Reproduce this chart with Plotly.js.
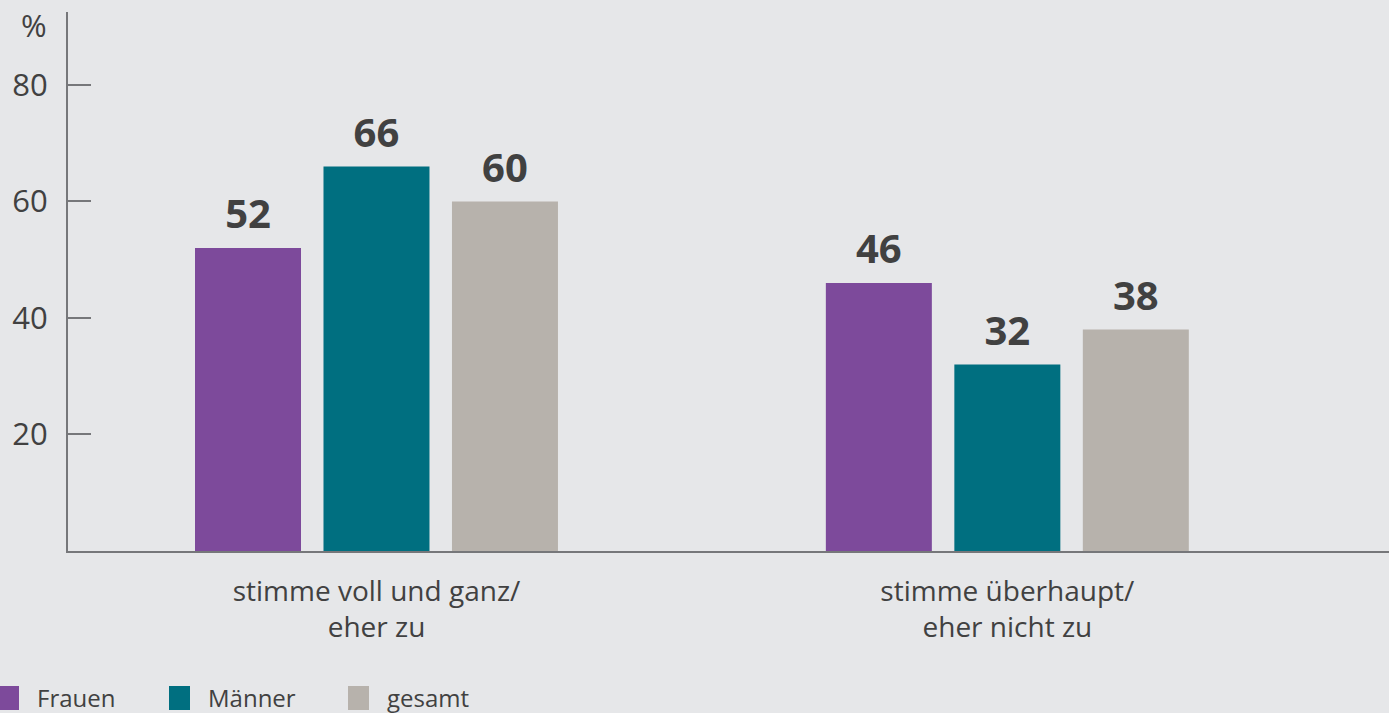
<!DOCTYPE html>
<html>
<head>
<meta charset="utf-8">
<script src="https://cdn.plot.ly/plotly-3.0.1.min.js"></script>
<style>
  html, body { margin: 0; padding: 0; background: #e6e7e9; }
  #chart { width: 1389px; height: 713px; }
</style>
</head>
<body>
<div id="chart"></div>
<script>
// ---- data ----
const categories = ["stimme voll und ganz/<br>eher zu", "stimme überhaupt/<br>eher nicht zu"];
const seriesNames = ["Frauen", "Männer", "gesamt"];
const frauen = [52, 46];
const maenner = [66, 32];
const gesamt = [60, 38];
const yTickVals = [20, 40, 60, 80];
const yUnit = "%";

// ---- styling ----
const seriesValues = [frauen, maenner, gesamt];
const colors = ["#7d4a9b", "#006f80", "#b7b2ac"];
const textColor = "#414141";
const axisColor = "#76777a";
const bg = "#e6e7e9";
const FONT = "Open Sans, Noto Sans, sans-serif";

const W = 1389, H = 713;
const M = { l: 68, r: 0, t: 12, b: 162 };
const PW = W - M.l - M.r, PH = H - M.t - M.b;
const px2x = p => (p - M.l) / PW;
const py2y = p => (H - M.b - p) / PH;

const traces = [];
seriesNames.forEach((name, i) => {
  traces.push({
    type: "bar",
    name: name,
    x: categories,
    y: seriesValues[i],
    marker: { color: colors[i] },
    offsetgroup: String(i),
    hoverinfo: "skip",
    showlegend: false
  });
});
seriesNames.forEach((name, i) => {
  traces.push({
    type: "scatter",
    mode: "markers+text",
    name: name + " label",
    x: categories,
    y: seriesValues[i],
    text: seriesValues[i].map(String),
    textposition: "top center",
    textfont: { family: FONT, size: 40, color: textColor, weight: 700 },
    marker: { size: 14, color: "rgba(0,0,0,0)" },
    offsetgroup: String(i),
    cliponaxis: false,
    hoverinfo: "skip",
    showlegend: false
  });
});

// custom legend (layout positions in pixels)
const shapes = [];
const annotations = [];
const legendSquareX = [-2, 169, 348];
const sqW = 21, sqTop = 686, sqBot = 710, textOff = 37;
seriesNames.forEach((name, i) => {
  const x0 = legendSquareX[i];
  shapes.push({
    type: "rect", xref: "paper", yref: "paper",
    x0: px2x(x0), x1: px2x(x0 + sqW), y0: py2y(sqBot), y1: py2y(sqTop),
    fillcolor: colors[i], line: { width: 0 }, layer: "above"
  });
  annotations.push({
    xref: "paper", yref: "paper",
    x: px2x(x0 + textOff), y: py2y(697),
    xanchor: "left", yanchor: "middle",
    text: name, showarrow: false,
    font: { family: FONT, size: 24, color: textColor }
  });
});
annotations.push({
  xref: "paper", yref: "paper",
  x: px2x(49), y: py2y(25),
  xanchor: "right", yanchor: "middle",
  text: yUnit, showarrow: false,
  font: { family: FONT, size: 31, color: textColor }
});

const layout = {
  width: W, height: H,
  margin: M,
  paper_bgcolor: bg,
  plot_bgcolor: bg,
  font: { family: FONT, color: textColor },
  showlegend: false,
  barmode: "group",
  scattermode: "group",
  bargap: 0.389,
  bargroupgap: 0.175,
  scattergap: 0.389,
  xaxis: {
    type: "category",
    range: [-0.489, 1.605],
    showgrid: false,
    zeroline: false,
    showline: true,
    linecolor: axisColor,
    linewidth: 2,
    ticks: "",
    ticklabelstandoff: 14,
    tickfont: { family: FONT, size: 28, color: textColor },
    fixedrange: true
  },
  yaxis: {
    range: [0, 92.5],
    tickvals: yTickVals,
    ticktext: yTickVals.map(String),
    showgrid: false,
    zeroline: false,
    showline: true,
    linecolor: axisColor,
    linewidth: 2,
    ticks: "inside",
    ticklen: 23,
    tickwidth: 2,
    tickcolor: axisColor,
    ticklabelstandoff: 12,
    tickfont: { family: FONT, size: 31, color: textColor },
    fixedrange: true
  },
  shapes: shapes,
  annotations: annotations
};

Plotly.newPlot("chart", traces, layout, { displayModeBar: false, staticPlot: true });
</script>
</body>
</html>
